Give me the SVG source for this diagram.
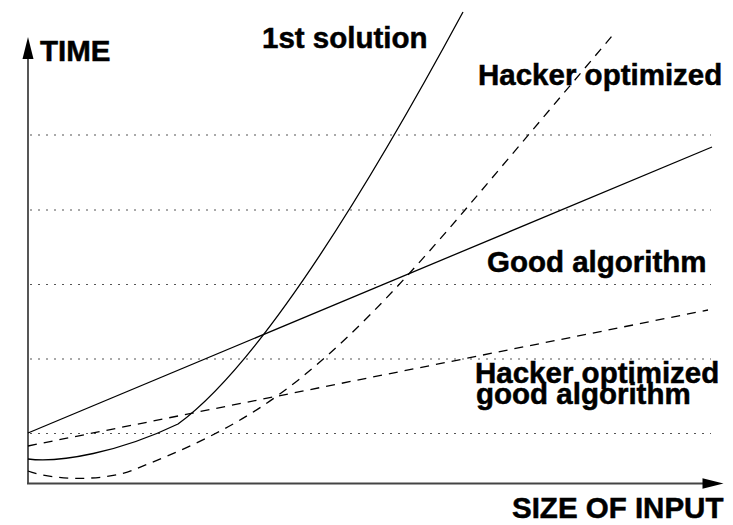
<svg xmlns="http://www.w3.org/2000/svg" width="733" height="525" viewBox="0 0 733 525">
  <style>
    .grid { stroke: #555; stroke-width: 1.2; stroke-dasharray: 2 6; fill: none; }
    .axis { stroke: #444; stroke-width: 1.8; fill: none; }
    .head { fill: #000; stroke: none; }
    .solid { stroke: #000; stroke-width: 1.3; fill: none; }
    .dashed { stroke: #000; stroke-width: 1.3; fill: none; stroke-dasharray: 9 7; }
    .label { font-family: "Liberation Sans", Arial, Helvetica, sans-serif; font-weight: bold; font-size: 29.5px; fill: #000; stroke: #000; stroke-width: 0.5; }
  </style>
  <rect width="733" height="525" fill="#fff"/>

  <!-- horizontal reference lines -->
  <g id="grid">
    <line class="grid" x1="30" y1="135" x2="711" y2="135"/>
    <line class="grid" x1="30" y1="210" x2="711" y2="210"/>
    <line class="grid" x1="30" y1="284.5" x2="711" y2="284.5"/>
    <line class="grid" x1="30" y1="359" x2="711" y2="359"/>
    <line class="grid" x1="30" y1="433.5" x2="711" y2="433.5"/>
  </g>

  <!-- axes with arrowheads -->
  <g id="axes">
    <line class="axis" x1="28" y1="484" x2="28" y2="56"/>
    <line class="axis" x1="27" y1="483.5" x2="705" y2="483.5"/>
    <polygon class="head" points="28,37 22.5,59 33.5,59"/>
    <polygon class="head" points="723.5,483.5 702.5,478.3 702.5,488.7"/>
  </g>

  <!-- growth curves -->
  <g id="connectors">
    <path id="first-solution" class="solid" d="M28,459 C60,463 120,452 178,424 Q281,349 463,12"/>
    <path id="hacker-optimized" class="dashed" d="M28,471 C55,481 105,481 133,470 C181,451 229,430.5 277,396 C340,351 402,284 465,210 L612,36"/>
    <line id="good-algorithm" class="solid" x1="28" y1="433" x2="712" y2="147"/>
    <line id="hacker-good-algorithm" class="dashed" x1="28" y1="446" x2="708" y2="310"/>
  </g>

  <!-- labels -->
  <g id="label-time"><text class="label" x="40" y="61">TIME</text></g>
  <g id="label-first-solution"><text class="label" x="262" y="48">1st solution</text></g>
  <g id="label-hacker-optimized"><text class="label" x="478" y="85">Hacker optimized</text></g>
  <g id="label-good-algorithm"><text class="label" x="487" y="272">Good algorithm</text></g>
  <g id="label-hacker-good-algorithm">
    <text class="label" x="475" y="383">Hacker optimized</text>
    <text class="label" x="476" y="404">good algorithm</text>
  </g>
  <g id="label-size"><text class="label" x="512" y="518">SIZE OF INPUT</text></g>
</svg>
